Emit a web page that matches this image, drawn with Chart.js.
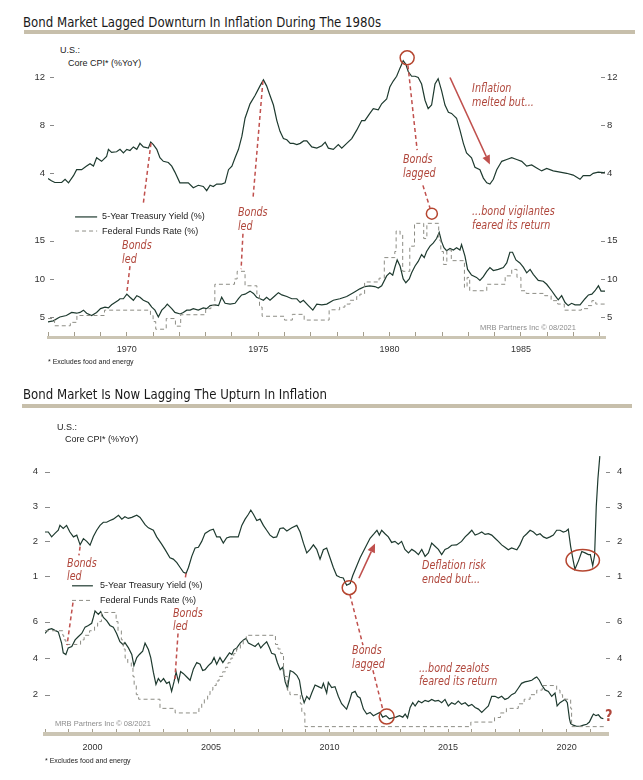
<!DOCTYPE html>
<html><head><meta charset="utf-8">
<script src="https://cdn.jsdelivr.net/npm/chart.js@4.4.1/dist/chart.umd.min.js"></script>
<style>
body{margin:0;background:#fff;width:643px;height:780px;position:relative;overflow:hidden;font-family:"Liberation Sans",Arial,sans-serif;color:#222}
.title{position:absolute;left:23px;font-family:"Liberation Sans Narrow","DejaVu Sans Condensed","Liberation Sans",sans-serif;font-size:14px;line-height:16px;color:#1a1a1a;white-space:nowrap;transform:scaleX(0.935);transform-origin:0 50%}
.bar{position:absolute;height:4px;background:#c7bfab}
.lbl{position:absolute;font-size:9px;line-height:11px;color:#222;white-space:nowrap}
.foot{position:absolute;font-size:7px;line-height:8px;color:#222;white-space:nowrap}
canvas{position:absolute;left:0}
</style></head><body>
<div class="title" style="top:14px">Bond Market Lagged Downturn In Inflation During The 1980s</div>
<div class="bar" style="top:30px;left:24px;width:611px"></div>
<div class="lbl" style="left:60px;top:45px">U.S.:</div>
<div class="lbl" style="left:68px;top:58px">Core CPI* (%YoY)</div>
<canvas id="c1" width="643" height="330" style="top:36px"></canvas>
<div class="foot" style="left:48px;top:358px">* Excludes food and energy</div>

<div class="title" style="top:386px">Bond Market Is Now Lagging The Upturn In Inflation</div>
<div class="bar" style="top:404px;left:22px;width:610px"></div>
<div class="lbl" style="left:57px;top:422px">U.S.:</div>
<div class="lbl" style="left:65px;top:434px">Core CPI* (%YoY)</div>
<canvas id="c2" width="643" height="345" style="top:411px"></canvas>
<div class="foot" style="left:45px;top:757px">* Excludes food and energy</div>

<script>
// ---------------- DATA: chart 1 (1967-1988) ----------------
const cpi1Dates = [1967.00,1967.13,1967.26,1967.52,1967.65,1967.78,1967.97,1968.09,1968.28,1968.47,
 1968.60,1968.73,1968.85,1969.04,1969.23,1969.30,1969.42,1969.61,1969.74,1969.87,
 1970.00,1970.12,1970.25,1970.38,1970.50,1970.63,1970.82,1970.91,1971.01,1971.14,
 1971.26,1971.39,1971.58,1971.71,1971.83,1972.02,1972.15,1972.34,1972.53,1972.72,
 1972.91,1973.04,1973.17,1973.29,1973.42,1973.61,1973.74,1973.87,1974.00,1974.12,
 1974.25,1974.38,1974.50,1974.69,1974.88,1975.07,1975.20,1975.32,1975.45,1975.58,
 1975.71,1975.83,1975.96,1976.09,1976.22,1976.34,1976.47,1976.60,1976.73,1976.85,
 1977.04,1977.23,1977.42,1977.55,1977.67,1977.86,1978.05,1978.18,1978.37,1978.56,
 1978.75,1978.94,1979.06,1979.25,1979.38,1979.57,1979.70,1979.89,1980.01,1980.14,
 1980.27,1980.40,1980.52,1980.62,1980.71,1980.84,1980.97,1981.09,1981.22,1981.35,
 1981.47,1981.60,1981.73,1981.85,1981.98,1982.11,1982.24,1982.36,1982.55,1982.68,
 1982.81,1982.93,1983.12,1983.25,1983.44,1983.57,1983.70,1983.82,1983.95,1984.08,
 1984.27,1984.46,1984.65,1984.84,1985.03,1985.22,1985.41,1985.60,1985.79,1985.98,
 1986.23,1986.49,1986.74,1986.99,1987.25,1987.37,1987.63,1987.75,1987.94,1988.14,
 1988.20];
const cpi1Values = [3.56,3.37,3.23,3.23,3.50,3.20,3.80,4.30,4.30,4.60,
 4.80,4.60,5.30,5.00,5.40,6.00,5.75,5.80,6.00,5.70,
 6.00,5.90,6.20,6.00,6.50,6.20,6.10,6.60,6.40,6.00,
 5.30,5.00,4.90,4.60,4.10,3.20,3.20,3.20,2.80,3.00,
 2.90,2.55,3.00,2.90,3.10,3.10,3.20,4.30,4.60,5.30,
 6.00,7.10,8.60,9.80,10.50,11.30,11.80,11.30,10.50,9.70,
 8.40,7.50,6.90,6.80,6.50,6.50,6.40,6.50,6.70,6.70,
 6.20,6.10,6.30,6.60,6.10,6.00,6.40,6.10,6.50,6.90,
 7.60,8.40,8.40,9.00,9.40,9.30,9.80,10.20,11.20,11.70,
 12.10,12.80,13.40,13.10,12.50,12.10,12.10,12.00,11.45,10.10,
 9.40,9.70,11.45,11.90,10.90,9.70,9.10,9.00,8.60,7.60,
 6.50,5.70,5.30,4.50,4.30,3.60,3.20,3.10,3.50,4.30,
 5.00,5.15,5.30,5.15,5.00,4.60,4.70,4.45,4.20,4.40,
 4.20,4.10,4.00,3.85,3.50,3.80,3.80,4.00,4.10,4.05,
 4.10];
const y5a1Dates = [1967.00,1967.20,1967.45,1967.70,1967.90,1968.09,1968.22,1968.35,1968.47,1968.66,
 1968.85,1969.00,1969.17,1969.30,1969.42,1969.55,1969.68,1969.74,1969.87,1970.00,
 1970.12,1970.25,1970.38,1970.50,1970.63,1970.82,1970.95,1971.07,1971.20,1971.33,
 1971.45,1971.54,1971.71,1971.83,1972.03,1972.15,1972.28,1972.41,1972.53,1972.72,
 1972.91,1973.04,1973.17,1973.36,1973.49,1973.61,1973.74,1973.93,1974.12,1974.25,
 1974.37,1974.50,1974.69,1974.82,1974.94,1975.07,1975.20,1975.32,1975.45,1975.64,
 1975.77,1975.90,1976.09,1976.28,1976.47,1976.60,1976.72,1976.91,1977.08,1977.23,
 1977.42,1977.61,1977.86,1978.11,1978.37,1978.62,1978.87,1979.06,1979.25,1979.44,
 1979.57,1979.70,1979.89,1980.01,1980.12,1980.20,1980.29,1980.40,1980.52,1980.62,
 1980.75,1980.84,1980.97,1981.09,1981.22,1981.32,1981.41,1981.54,1981.66,1981.79,
 1981.89,1981.98,1982.07,1982.17,1982.30,1982.43,1982.55,1982.68,1982.74,1982.87,
 1982.97,1983.12,1983.31,1983.44,1983.57,1983.70,1983.82,1983.95,1984.14,1984.33,
 1984.46,1984.58,1984.68,1984.81,1984.96,1985.09,1985.22,1985.35,1985.47,1985.66,
 1985.85,1985.98,1986.17,1986.30,1986.42,1986.55,1986.68,1986.80,1986.93,1987.06,
 1987.25,1987.44,1987.57,1987.70,1987.82,1987.95,1988.05,1988.20];
const y5a1Values = [4.35,4.50,5.00,5.20,5.60,5.50,5.60,5.90,5.50,5.20,
 5.60,6.10,6.30,6.20,6.60,6.90,7.20,7.40,7.40,8.00,
 7.60,7.20,7.80,7.60,7.20,6.90,6.30,5.90,5.00,5.90,
 6.30,6.70,6.10,5.60,5.40,5.60,5.90,5.90,6.10,5.90,
 6.20,6.10,6.50,6.60,6.50,7.60,6.80,6.70,6.80,7.40,
 7.90,8.00,8.40,8.10,7.60,7.40,7.20,7.60,7.20,7.80,
 8.20,7.90,7.70,7.40,7.40,6.90,7.20,6.50,5.90,6.70,
 6.60,6.70,7.20,7.40,7.70,8.20,8.70,9.00,9.10,9.00,
 8.80,9.10,10.40,10.80,10.50,11.50,12.50,11.70,10.00,9.50,
 10.00,10.80,11.70,12.30,13.20,12.80,13.60,14.30,14.70,15.30,
 16.10,14.90,14.10,13.70,14.00,13.80,14.10,13.80,14.50,13.00,
 11.25,10.50,10.20,9.80,10.30,11.00,11.50,11.10,11.25,11.50,
 12.10,13.50,13.50,12.50,12.10,11.55,10.80,11.25,10.60,9.80,
 9.70,9.30,8.45,7.80,7.25,7.80,6.90,6.50,6.80,6.60,
 6.60,7.40,7.90,8.00,8.45,9.10,8.40,8.40];
const ff1Dates = [1967.00,1967.25,1967.85,1968.10,1969.15,1970.90,1971.00,1971.10,1971.50,1971.85,
 1972.05,1973.00,1973.20,1973.35,1974.10,1974.20,1974.50,1974.95,1975.05,1975.15,
 1976.00,1976.30,1976.75,1977.70,1978.10,1978.30,1978.50,1978.75,1978.87,1979.05,
 1979.60,1979.80,1980.20,1980.25,1980.40,1980.50,1980.77,1980.95,1981.30,1981.42,
 1981.87,1981.95,1982.05,1982.18,1982.35,1982.85,1982.95,1983.05,1983.70,1984.40,
 1984.65,1984.85,1985.00,1985.20,1985.90,1986.15,1986.40,1986.65,1987.30,1987.55,
 1987.70,1987.85,1988.20];
const ff1Values = [4.80,3.85,4.30,5.20,5.90,5.20,4.40,3.40,4.80,3.80,
 5.30,6.10,6.50,9.30,10.00,11.00,9.10,8.00,6.30,5.10,
 4.60,5.35,4.60,5.95,6.30,6.70,7.20,7.70,8.00,9.60,
 10.10,12.80,13.60,16.30,15.80,11.00,14.30,17.30,15.30,17.30,
 15.10,13.60,11.90,13.80,12.40,8.90,10.20,8.45,9.30,10.40,
 11.25,10.20,8.45,8.10,7.80,7.15,6.70,5.90,6.10,6.50,
 7.15,6.70,6.70];
const cpiTicks1 = [4, 8, 12];
const rateTicks1 = [5, 10, 15];
const yearLabels1 = [1970, 1975, 1980, 1985];

// ---------------- DATA: chart 2 (1998-2021) ----------------
const cpi2Dates = [1998.00,1998.14,1998.28,1998.42,1998.56,1998.63,1998.77,1998.91,1999.05,1999.20,
 1999.34,1999.48,1999.62,1999.76,1999.90,2000.04,2000.18,2000.32,2000.46,2000.60,
 2000.74,2000.88,2001.10,2001.24,2001.37,2001.51,2001.66,2001.87,2002.01,2002.22,
 2002.36,2002.57,2002.71,2002.92,2003.06,2003.27,2003.41,2003.56,2003.70,2003.84,
 2003.95,2004.05,2004.19,2004.33,2004.47,2004.61,2004.75,2004.96,2005.10,2005.24,
 2005.38,2005.52,2005.66,2005.80,2006.01,2006.15,2006.30,2006.44,2006.58,2006.68,
 2006.79,2006.93,2007.07,2007.21,2007.35,2007.49,2007.63,2007.77,2007.91,2008.05,
 2008.20,2008.41,2008.62,2008.76,2008.90,2009.04,2009.18,2009.32,2009.46,2009.60,
 2009.74,2009.88,2010.02,2010.16,2010.30,2010.44,2010.58,2010.72,2010.87,2010.98,
 2011.15,2011.29,2011.50,2011.71,2011.88,2012.00,2012.10,2012.20,2012.34,2012.48,
 2012.62,2012.76,2012.90,2013.04,2013.18,2013.33,2013.47,2013.61,2013.75,2013.89,
 2014.03,2014.17,2014.31,2014.45,2014.59,2014.73,2014.87,2015.01,2015.15,2015.36,
 2015.57,2015.72,2015.86,2016.00,2016.14,2016.28,2016.42,2016.56,2016.70,2016.84,
 2016.98,2017.12,2017.26,2017.40,2017.54,2017.68,2017.90,2018.03,2018.18,2018.32,
 2018.46,2018.60,2018.74,2018.88,2019.02,2019.16,2019.30,2019.44,2019.58,2019.72,
 2019.86,2019.97,2020.07,2020.17,2020.28,2020.35,2020.50,2020.64,2020.78,2020.92,
 2021.00,2021.10,2021.18,2021.25,2021.32,2021.40];
const cpi2Values = [2.27,2.27,2.13,2.23,2.32,2.46,2.37,2.46,2.27,2.13,
 2.18,1.90,2.08,2.00,1.89,2.14,2.32,2.46,2.55,2.55,
 2.60,2.64,2.75,2.64,2.71,2.66,2.69,2.75,2.69,2.48,
 2.39,2.32,2.13,1.92,1.77,1.53,1.49,1.39,1.25,1.11,
 1.08,1.25,1.57,1.81,1.83,2.00,2.23,2.32,2.35,2.13,
 2.13,1.95,2.10,2.13,2.13,2.13,2.46,2.64,2.78,2.90,
 2.78,2.60,2.64,2.46,2.32,2.18,2.11,2.13,2.37,2.39,
 2.30,2.39,2.46,2.27,1.95,1.67,1.77,1.90,1.77,1.49,
 1.76,1.81,1.53,1.25,1.02,0.97,0.95,0.74,0.79,1.02,
 1.30,1.53,1.81,2.09,2.22,2.32,2.18,2.32,2.22,2.13,
 1.97,2.00,1.92,2.00,1.77,1.67,1.77,1.71,1.62,1.77,
 1.57,1.67,1.95,1.86,1.77,1.62,1.77,1.81,1.89,1.90,
 2.00,2.13,2.22,2.32,2.18,2.22,2.27,2.20,2.22,2.18,
 2.09,2.00,1.90,1.83,1.76,1.81,1.76,1.90,2.13,2.22,
 2.32,2.27,2.18,2.22,2.13,2.09,2.13,2.18,2.32,2.32,
 2.27,2.29,2.35,1.85,1.44,1.20,1.44,1.71,1.67,1.62,
 1.62,1.30,1.60,3.00,3.80,4.45];
const y52Dates = [1998.00,1998.14,1998.28,1998.42,1998.56,1998.70,1998.77,1998.88,1998.98,1999.13,
 1999.27,1999.40,1999.55,1999.69,1999.83,1999.97,2000.04,2000.11,2000.25,2000.35,
 2000.46,2000.60,2000.74,2000.88,2001.02,2001.16,2001.30,2001.37,2001.52,2001.66,
 2001.75,2001.87,2001.98,2002.12,2002.22,2002.36,2002.46,2002.57,2002.68,2002.78,
 2002.88,2003.00,2003.13,2003.24,2003.34,2003.44,2003.53,2003.63,2003.72,2003.84,
 2003.98,2004.12,2004.26,2004.40,2004.54,2004.65,2004.75,2004.89,2005.03,2005.13,
 2005.24,2005.38,2005.50,2005.64,2005.78,2005.88,2005.97,2006.09,2006.23,2006.37,
 2006.48,2006.58,2006.72,2006.86,2007.00,2007.10,2007.21,2007.35,2007.47,2007.56,
 2007.70,2007.80,2007.92,2008.03,2008.13,2008.23,2008.34,2008.48,2008.62,2008.73,
 2008.83,2008.93,2009.04,2009.15,2009.25,2009.39,2009.53,2009.67,2009.74,2009.88,
 2009.95,2010.09,2010.23,2010.37,2010.51,2010.65,2010.72,2010.84,2010.94,2011.08,
 2011.18,2011.29,2011.43,2011.57,2011.71,2011.85,2011.99,2012.13,2012.24,2012.38,
 2012.52,2012.66,2012.80,2012.95,2013.09,2013.19,2013.29,2013.40,2013.51,2013.61,
 2013.75,2013.89,2014.03,2014.17,2014.31,2014.45,2014.59,2014.73,2014.87,2015.01,
 2015.15,2015.29,2015.43,2015.57,2015.72,2015.86,2016.00,2016.14,2016.28,2016.42,
 2016.56,2016.70,2016.84,2016.98,2017.12,2017.26,2017.40,2017.54,2017.68,2017.82,
 2017.96,2018.10,2018.24,2018.39,2018.53,2018.67,2018.74,2018.85,2018.95,2019.09,
 2019.23,2019.37,2019.51,2019.60,2019.72,2019.83,2019.93,2020.03,2020.12,2020.17,
 2020.28,2020.42,2020.57,2020.71,2020.85,2020.96,2021.06,2021.13,2021.24,2021.34,
 2021.45,2021.55];
const y52Values = [5.35,5.56,5.61,5.52,5.44,4.82,4.29,4.20,4.56,4.64,
 5.00,5.17,5.35,5.70,5.79,5.91,6.23,6.58,6.40,6.55,
 6.23,6.05,5.79,5.70,5.35,4.90,4.73,4.85,4.56,4.20,
 3.59,4.03,4.20,4.38,4.82,4.47,4.03,3.23,2.56,2.88,
 2.70,2.88,2.62,2.70,2.18,2.70,3.23,2.70,3.27,3.15,
 2.97,2.79,3.41,3.76,3.67,3.32,3.37,3.59,3.76,4.03,
 3.67,4.03,3.76,4.03,4.29,4.20,4.47,4.56,4.82,5.00,
 5.08,4.82,4.73,4.64,4.82,4.56,4.73,4.90,4.56,4.26,
 4.20,3.76,3.37,3.50,2.70,2.35,3.32,3.23,3.06,2.79,
 2.00,1.56,1.91,1.74,2.09,2.53,2.44,2.35,2.62,2.09,
 2.67,2.39,2.44,1.91,1.51,1.30,1.21,1.65,2.09,2.18,
 1.91,1.82,1.21,0.94,1.03,0.85,0.94,1.03,0.77,0.85,
 0.68,0.73,0.77,0.85,0.77,0.94,0.73,1.30,1.56,1.38,
 1.65,1.56,1.69,1.62,1.74,1.65,1.69,1.56,1.74,1.38,
 1.56,1.47,1.65,1.47,1.56,1.38,1.47,1.30,1.21,1.03,
 1.21,1.38,1.91,1.91,1.82,1.91,1.74,1.82,2.00,2.09,
 2.35,2.62,2.70,2.74,2.79,2.92,2.97,2.79,2.53,2.26,
 2.18,1.91,2.09,1.38,1.56,1.65,1.74,1.56,0.68,0.41,
 0.33,0.27,0.27,0.33,0.38,0.50,0.77,0.94,0.85,0.90,
 0.73,0.68];
const ff2Dates = [1998.00,1998.75,1998.79,1998.88,1999.50,1999.65,1999.88,2000.09,2000.22,2000.38,
 2001.00,2001.08,2001.22,2001.30,2001.38,2001.49,2001.64,2001.71,2001.76,2001.85,
 2001.95,2002.85,2003.49,2004.49,2004.61,2004.72,2004.86,2004.96,2005.08,2005.22,
 2005.34,2005.49,2005.61,2005.72,2005.84,2005.96,2006.08,2006.24,2006.36,2006.49,
 2007.72,2007.83,2007.94,2008.06,2008.08,2008.22,2008.33,2008.77,2008.83,2008.96,
 2015.96,2016.96,2017.21,2017.46,2017.96,2018.21,2018.46,2018.74,2018.97,2019.58,
 2019.72,2019.83,2020.17,2020.21,2021.58];
const ff2Values = [5.50,5.25,5.00,4.75,5.00,5.25,5.50,5.75,6.00,6.50,
 6.00,5.50,5.00,4.50,4.00,3.75,3.50,3.00,2.50,2.00,
 1.75,1.25,1.00,1.25,1.50,1.75,2.00,2.25,2.50,2.75,
 3.00,3.25,3.50,3.75,4.00,4.25,4.50,4.75,5.00,5.25,
 4.75,4.50,4.25,3.50,3.00,2.25,2.00,1.50,1.00,0.25,
 0.50,0.75,1.00,1.25,1.50,1.75,2.00,2.25,2.50,2.25,
 2.00,1.75,1.25,0.25,0.25];
const cpiTicks2 = [1, 2, 3, 4];
const rateTicks2 = [2, 4, 6];
const yearLabels2 = [2000, 2005, 2010, 2015, 2020];

// ---------------- styles ----------------
const LINE = '#1e3a2f', FFC = '#8d8d85', RED = '#c0504d', REDT = '#b0473c';
const SANS = '"Liberation Sans", Arial, sans-serif';
const NARROW = '"Liberation Sans Narrow", "DejaVu Sans Condensed", "Liberation Sans", sans-serif';
const ITAL = 'italic 13px ' + NARROW;
const ITAL_SX = 0.82;
const LEGF = '9px ' + SANS;
const MRBF = '7.5px ' + SANS;

// annotations (positions in data units: [year, value, axis])
const ann1 = [
  {t:'seg', a:[1968.03,18.14,'rateL'], b:[1968.87,18.14,'rateL'], color:LINE, w:1.2},
  {t:'text', p:[1969.06,18.14,'rateL'], lines:['5-Year Treasury Yield (%)'], font:LEGF, color:'#222', sx:1},
  {t:'seg', a:[1968.03,16.29,'rateL'], b:[1968.87,16.29,'rateL'], color:FFC, w:1, dash:[4,3]},
  {t:'text', p:[1969.06,16.29,'rateL'], lines:['Federal Funds Rate (%)'], font:LEGF, color:'#222', sx:1},
  {t:'dash', a:[1970.92,6.52,'cpiL'], b:[1970.62,19.69,'rateL']},
  {t:'text', p:[1969.82,14.39,'rateL'], lines:['Bonds','led'], lh:14},
  {t:'dash', a:[1970.12,11.68,'rateL'], b:[1970.0,8.19,'rateL']},
  {t:'dash', a:[1975.18,11.70,'cpiL'], b:[1974.80,20.47,'rateL']},
  {t:'text', p:[1974.23,18.66,'rateL'], lines:['Bonds','led'], lh:14},
  {t:'dash', a:[1974.42,15.94,'rateL'], b:[1974.35,11.29,'rateL']},
  {t:'circle', c:[1980.67,13.64,'cpiL'], r:7},
  {t:'dash', a:[1980.70,13.01,'cpiL'], b:[1981.05,5.94,'cpiL']},
  {t:'text', p:[1980.51,5.12,'cpiL'], lines:['Bonds','lagged'], lh:13.5},
  {t:'dash', a:[1981.27,2.99,'cpiL'], b:[1981.54,19.30,'rateL']},
  {t:'circle', c:[1981.61,18.57,'rateL'], r:5.5},
  {t:'arrow', a:[1982.30,12.0,'cpiL'], b:[1983.82,4.74,'cpiL']},
  {t:'text', p:[1983.14,11.04,'cpiL'], lines:['Inflation','melted but...'], lh:13.5},
  {t:'text', p:[1983.14,18.79,'rateL'], lines:['...bond vigilantes','feared its return'], lh:14},
  {t:'text', p:[1983.44,3.54,'rateL'], lines:['MRB Partners Inc \u00A9 08/2021'], font:MRBF, color:'#8d8d8d', sx:1}
];
const ann2 = [
  {t:'seg', a:[1999.14,7.96,'rateL'], b:[2000.02,7.96,'rateL'], color:LINE, w:1.2},
  {t:'text', p:[2000.32,7.96,'rateL'], lines:['5-Year Treasury Yield (%)'], font:LEGF, color:'#222', sx:1},
  {t:'seg', a:[1999.14,7.16,'rateL'], b:[2000.02,7.16,'rateL'], color:FFC, w:1, dash:[4,3]},
  {t:'text', p:[2000.32,7.16,'rateL'], lines:['Federal Funds Rate (%)'], font:LEGF, color:'#222', sx:1},
  {t:'dash', a:[1999.48,1.85,'cpiL'], b:[1999.43,1.60,'cpiL']},
  {t:'text', p:[1998.93,1.35,'cpiL'], lines:['Bonds','led'], lh:12.5},
  {t:'dash', a:[1999.18,7.04,'rateL'], b:[1998.93,4.71,'rateL']},
  {t:'dash', a:[2003.95,1.08,'cpiL'], b:[2003.90,0.88,'cpiL']},
  {t:'text', p:[2003.40,6.41,'rateL'], lines:['Bonds','led'], lh:13},
  {t:'dash', a:[2003.61,5.35,'rateL'], b:[2003.48,2.86,'rateL']},
  {t:'circle', c:[2010.83,0.67,'cpiL'], r:7},
  {t:'arrow', a:[2011.24,0.94,'cpiL'], b:[2011.92,1.94,'cpiL']},
  {t:'text', p:[2013.90,1.30,'cpiL'], lines:['Deflation risk','ended but...'], lh:14},
  {t:'dash', a:[2010.86,7.47,'rateL'], b:[2011.41,4.71,'rateL']},
  {t:'text', p:[2010.95,4.40,'rateL'], lines:['Bonds','lagged'], lh:14},
  {t:'dash', a:[2011.83,3.34,'rateL'], b:[2012.26,1.12,'rateL']},
  {t:'circle', c:[2012.41,0.80,'rateL'], r:7.5},
  {t:'text', p:[2013.77,3.44,'rateL'], lines:['...bond zealots','feared its return'], lh:13.5},
  {t:'ellipse', c:[2020.68,1.46,'cpiL'], rx:16.7, ry:10.8},
  {t:'text', p:[2021.62,0.80,'rateL'], lines:['?'], font:'bold 16px ' + NARROW, sx:0.9},
  {t:'text', p:[1998.42,0.38,'rateL'], lines:['MRB Partners Inc \u00A9 08/2021'], font:MRBF, color:'#8d8d8d', sx:1}
];

const annotPlugin = {
  id: 'annot',
  afterDraw(chart, args, opts) {
    const ctx = chart.ctx, X = chart.scales.x, area = chart.chartArea;
    const P = p => [X.getPixelForValue(p[0]), chart.scales[p[2]].getPixelForValue(p[1])];
    ctx.save();
    (opts.marks || []).forEach(m => {
      const s = chart.scales[m.axis];
      ctx.strokeStyle = '#8a8a8a'; ctx.lineWidth = 1; ctx.setLineDash([]);
      s.ticks.forEach(t => {
        const y = Math.round(s.getPixelForValue(t.value)) + 0.5;
        const e = m.side === 'left' ? area.left : area.right;
        ctx.beginPath(); ctx.moveTo(e + m.d[0], y); ctx.lineTo(e + m.d[1], y); ctx.stroke();
      });
    });
    (opts.items || []).forEach(it => {
      ctx.setLineDash([]);
      if (it.t === 'seg') {
        const a = P(it.a), b = P(it.b);
        ctx.strokeStyle = it.color; ctx.lineWidth = it.w; ctx.setLineDash(it.dash || []);
        ctx.beginPath(); ctx.moveTo(a[0], a[1]); ctx.lineTo(b[0], b[1]); ctx.stroke();
      } else if (it.t === 'dash') {
        const a = P(it.a), b = P(it.b);
        ctx.strokeStyle = RED; ctx.lineWidth = 1.5; ctx.setLineDash([4, 3]);
        ctx.beginPath(); ctx.moveTo(a[0], a[1]); ctx.lineTo(b[0], b[1]); ctx.stroke();
      } else if (it.t === 'arrow') {
        const a = P(it.a), b = P(it.b);
        const ang = Math.atan2(b[1] - a[1], b[0] - a[0]);
        const hl = 9, hw = 4;
        const bx = b[0] - hl * Math.cos(ang), by = b[1] - hl * Math.sin(ang);
        ctx.strokeStyle = RED; ctx.fillStyle = RED; ctx.lineWidth = 1.6;
        ctx.beginPath(); ctx.moveTo(a[0], a[1]); ctx.lineTo(bx, by); ctx.stroke();
        ctx.beginPath(); ctx.moveTo(b[0], b[1]);
        ctx.lineTo(bx + hw * Math.sin(ang), by - hw * Math.cos(ang));
        ctx.lineTo(bx - hw * Math.sin(ang), by + hw * Math.cos(ang));
        ctx.closePath(); ctx.fill();
      } else if (it.t === 'circle') {
        const c = P(it.c);
        ctx.strokeStyle = '#b5452f'; ctx.lineWidth = 1.5;
        ctx.beginPath(); ctx.arc(c[0], c[1], it.r, 0, Math.PI * 2); ctx.stroke();
      } else if (it.t === 'ellipse') {
        const c = P(it.c);
        ctx.strokeStyle = '#b5452f'; ctx.lineWidth = 1.5;
        ctx.beginPath(); ctx.ellipse(c[0], c[1], it.rx, it.ry, 0, 0, Math.PI * 2); ctx.stroke();
      } else if (it.t === 'text') {
        const p = P(it.p);
        const sx = it.sx || ITAL_SX;
        ctx.font = it.font || ITAL; ctx.fillStyle = it.color || REDT;
        ctx.textAlign = 'left'; ctx.textBaseline = 'middle';
        it.lines.forEach((l, i) => {
          ctx.save();
          ctx.translate(p[0], p[1] + i * (it.lh || 13));
          ctx.scale(sx, 1);
          ctx.fillText(l, 0, 0);
          ctx.restore();
        });
      }
    });
    ctx.restore();
  }
};

const zip = (xs, ys) => xs.map((x, i) => ({x, y: ys[i]}));
const range = (a, b) => { const r = []; for (let v = a; v <= b; v++) r.push(v); return r; };

function yAxis(pos, stack, sw, weight, min, max, ticks, pad, width) {
  return {
    type: 'linear', position: pos, stack: stack, stackWeight: sw, weight: weight,
    min: min, max: max,
    afterFit: s => { s.width = width; },
    afterBuildTicks: s => { s.ticks = ticks.map(v => ({value: v})); },
    grid: {display: false, drawTicks: false},
    border: {display: false},
    ticks: {padding: pad, color: '#333', font: {size: 9.5, family: SANS}}
  };
}

function build(id, o) {
  return new Chart(document.getElementById(id), {
    type: 'line',
    data: {datasets: [
      {data: zip(o.cpiD, o.cpiV), yAxisID: 'cpiL', borderColor: LINE, borderWidth: 1.2, pointRadius: 0, tension: 0},
      {data: zip(o.ffD, o.ffV), yAxisID: 'rateL', borderColor: FFC, borderWidth: 1, borderDash: [4, 3], pointRadius: 0, stepped: 'before'},
      {data: zip(o.y5D, o.y5V), yAxisID: 'rateL', borderColor: LINE, borderWidth: 1.2, pointRadius: 0, tension: 0}
    ]},
    options: {
      responsive: false, animation: false, devicePixelRatio: 1,
      layout: {padding: {top: 4, bottom: o.padB, left: 0, right: 0}},
      plugins: {legend: {display: false}, tooltip: {enabled: false},
        annot: {items: o.items, marks: o.marks}},
      scales: {
        x: {
          type: 'linear', min: o.xMin, max: o.xMax,
          afterFit: s => { s.height = o.xH; },
          afterBuildTicks: s => { s.ticks = range(Math.ceil(o.xMin), Math.floor(o.xMax)).map(v => ({value: v})); },
          ticks: {autoSkip: false, maxRotation: 0, padding: o.xPad, color: '#333', font: {size: 9, family: SANS},
            callback: v => o.labels.includes(v) ? String(v) : ''},
          grid: {display: true, drawOnChartArea: false, drawTicks: true, tickLength: -5, tickColor: '#a39d8d', tickWidth: 1},
          border: {display: true, color: '#cbc5b4', width: o.xBorder}
        },
        cpiL: yAxis('left', 'l', o.wTop, 2, o.cpiMin, o.cpiMax, o.cpiTicks, o.lPad, o.lW),
        rateL: yAxis('left', 'l', o.wBot, 1, o.rMin, o.rMax, o.rTicks, o.lPad, o.lW),
        cpiR: yAxis('right', 'r', o.wTop, 1, o.cpiMin, o.cpiMax, o.cpiTicks, o.rPad, o.rW),
        rateR: yAxis('right', 'r', o.wBot, 2, o.rMin, o.rMax, o.rTicks, o.rPad, o.rW)
      }
    },
    plugins: [annotPlugin]
  });
}

build('c1', {
  cpiD: cpi1Dates, cpiV: cpi1Values, ffD: ff1Dates, ffV: ff1Values, y5D: y5a1Dates, y5V: y5a1Values,
  xMin: 1967.0, xMax: 1988.2, labels: yearLabels1, xH: 20, padB: 9, xPad: 12.6, xBorder: 3,
  wTop: 150, wBot: 147, cpiMin: 2.411, cpiMax: 14.736, rMin: 2.377, rMax: 21.37,
  cpiTicks: cpiTicks1, rTicks: rateTicks1, lPad: 3, rPad: 2, lW: 48, rW: 38,
  items: ann1,
  marks: [{axis:'cpiL', side:'left', d:[2,6]}, {axis:'rateL', side:'left', d:[2,6]},
          {axis:'cpiR', side:'right', d:[-4,0]}, {axis:'rateR', side:'right', d:[-4,0]}]
});
build('c2', {
  cpiD: cpi2Dates, cpiV: cpi2Values, ffD: ff2Dates, ffV: ff2Values, y5D: y52Dates, y5V: y52Values,
  xMin: 1998.0, xMax: 2021.745, labels: yearLabels2, xH: 18, padB: 4, xPad: 13.3, xBorder: 4,
  wTop: 175, wBot: 144, cpiMin: 0.464, cpiMax: 5.325, rMin: -0.153, rMax: 7.466,
  cpiTicks: cpiTicks2, rTicks: rateTicks2, lPad: 7, rPad: 9, lW: 45, rW: 35,
  items: ann2,
  marks: [{axis:'cpiL', side:'left', d:[0,5]}, {axis:'rateL', side:'left', d:[0,5]},
          {axis:'cpiR', side:'right', d:[-2,2]}, {axis:'rateR', side:'right', d:[-2,2]}]
});
</script>
</body></html>
